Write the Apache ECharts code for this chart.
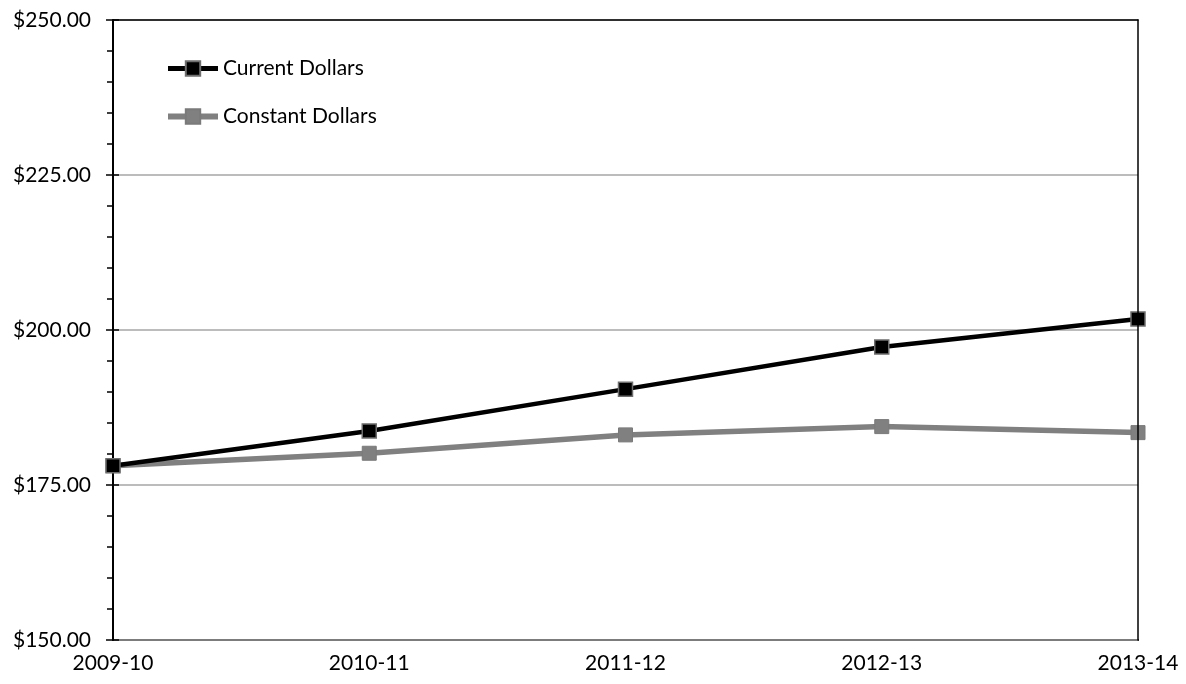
<!DOCTYPE html>
<html>
<head>
<meta charset="utf-8">
<script src="https://cdn.jsdelivr.net/npm/echarts@6/dist/echarts.min.js"></script>
<style>
  html, body { margin: 0; padding: 0; background: #fff; }
  #chart { width: 1186px; height: 684px; }
</style>
</head>
<body>
<div id="chart"></div>
<script>
// School years on the horizontal axis
const years = ['2009-10', '2010-11', '2011-12', '2012-13', '2013-14'];
// Amounts in dollars
const currentDollars = [178.12, 183.72, 190.46, 197.25, 201.78];
const constantDollars = [178.12, 180.12, 183.08, 184.42, 183.45];
// Vertical scale
const yMin = 150, yMax = 250, yStep = 25;

const FONT = 'Lato, "Open Sans", sans-serif';
const FONT_SIZE = 21;
const money = v => '$' + v.toFixed(2);

const chart = echarts.init(document.getElementById('chart'), null, { renderer: 'canvas' });

const hiddenAxisBits = {
  axisLabel: { show: false },
  splitLine: { show: false }
};

chart.setOption({
  animation: false,
  backgroundColor: '#ffffff',
  textStyle: { fontFamily: FONT },
  grid: { left: 113, right: 48, top: 20, bottom: 44, containLabel: false },
  legend: {
    left: 160,
    top: 53,
    orient: 'vertical',
    itemGap: 27,
    itemWidth: 50,
    itemHeight: 18,
    textStyle: { fontFamily: FONT, fontSize: FONT_SIZE, lineHeight: 20, color: '#000' },
    data: [
      { name: 'Current Dollars', lineStyle: { width: 5 } },
      { name: 'Constant Dollars', lineStyle: { width: 6 } }
    ]
  },
  xAxis: [
    {
      type: 'category',
      data: years,
      boundaryGap: false,
      axisLine: { show: true, lineStyle: { color: '#000', width: 2 } },
      axisTick: { show: false },
      axisLabel: { color: '#000', fontSize: FONT_SIZE, fontFamily: FONT, margin: 13 },
      splitLine: { show: false }
    },
    {
      // top border of the plot
      type: 'category',
      data: years,
      position: 'top',
      boundaryGap: false,
      z: 5,
      axisLine: { show: true, lineStyle: { color: '#000', width: 1.5 } },
      axisTick: { show: false },
      ...hiddenAxisBits
    }
  ],
  yAxis: [
    {
      type: 'value',
      min: yMin,
      max: yMax,
      interval: yStep,
      z: 4,
      axisLine: { show: true, lineStyle: { color: '#000', width: 2 } },
      axisTick: { show: true, inside: false, length: 7, lineStyle: { color: '#000', width: 1.5 } },
      minorTick: { show: true, splitNumber: 5, length: 6, lineStyle: { color: '#000', width: 1.5 } },
      axisLabel: { color: '#000', fontSize: FONT_SIZE, fontFamily: FONT, margin: 22, formatter: money },
      splitLine: { show: true, lineStyle: { color: '#a6a6a6', width: 1.5 } }
    },
    {
      // inner half of the major ticks on the left axis
      type: 'value',
      min: yMin,
      max: yMax,
      interval: yStep,
      position: 'left',
      z: 4,
      axisLine: { show: false },
      axisTick: { show: true, inside: true, length: 6, lineStyle: { color: '#000', width: 1.5 } },
      ...hiddenAxisBits
    },
    {
      // right border of the plot
      type: 'value',
      min: yMin,
      max: yMax,
      interval: yStep,
      position: 'right',
      z: 5,
      axisLine: { show: true, lineStyle: { color: '#000', width: 1.5 } },
      axisTick: { show: false },
      ...hiddenAxisBits
    }
  ],
  series: [
    {
      name: 'Constant Dollars',
      type: 'line',
      data: constantDollars,
      symbol: 'rect',
      symbolSize: 14,
      z: 3,
      lineStyle: { color: '#808080', width: 5.5 },
      itemStyle: { color: '#808080', borderColor: '#7a7a7a', borderWidth: 1 }
    },
    {
      name: 'Current Dollars',
      type: 'line',
      data: currentDollars,
      symbol: 'rect',
      symbolSize: 14,
      z: 4,
      lineStyle: { color: '#000000', width: 4.5 },
      itemStyle: { color: '#000000', borderColor: '#6e6e6e', borderWidth: 1.5 }
    }
  ]
});
</script>
</body>
</html>
